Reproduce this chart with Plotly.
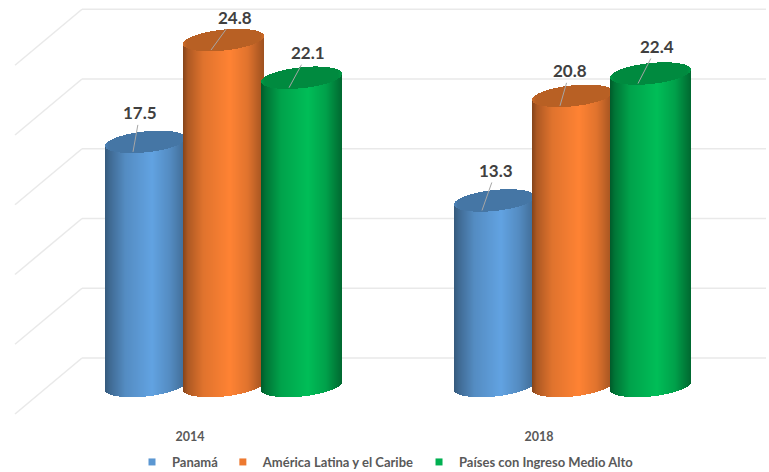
import numpy as np
import plotly.graph_objects as go

# ---- data ----
years = ["2014", "2018"]
series_names = ["Panamá", "América Latina y el Caribe", "Países con Ingreso Medio Alto"]
panama = [17.5, 13.3]
america_latina = [24.8, 20.8]
ingreso_medio_alto = [22.1, 22.4]
grid_values = [0, 5, 10, 15, 20, 25]

# ---- geometry / style ----
W, H = 769, 472
BOTTOM = 50
PX_X = 349.0            # pixels per group
PX_Y = 13.95            # pixels per value unit
X0_PX, Y0_PX = 223.5, 386.0
STEP, CYL_W = 78, 81
RX, RY, TILT = CYL_W / 2, 10.5, 4.0
DEPTH = 28.0            # px from floor centre to back wall
base_rgb = [(98, 163, 226), (255, 131, 52), (0, 190, 88)]
lid_rgb = [(69, 118, 165), (184, 96, 36), (0, 138, 63)]
shade_t = [0, 0.06, 0.25, 0.58, 0.8, 1]
shade_f = [[0.55, 0.65, 0.86, 1, 0.86, 0.65],
           [0.52, 0.68, 0.88, 1, 0.88, 0.62],
           [0.48, 0.62, 0.86, 1, 0.85, 0.55]]
label_dx = [[7, 14], [24, 10], [19, 19]]
label_dy = [[-39, -40], [-33, -35], [-35, -37]]
LBL = "#404040"
FONT = "Lato"


def sx(px):
    return px / PX_X


def sy(px):
    return px / PX_Y


def rgb(c, f=1.0):
    return "rgb(%d,%d,%d)" % tuple(min(255, int(v * f)) for v in c)


fig = go.Figure()
all_values = [panama, america_latina, ingreso_medio_alto]
annotations = []

for s, (name, vals) in enumerate(zip(series_names, all_values)):
    xs, bases, heights, colors = [], [], [], []
    for g, v in enumerate(vals):
        cx = g + sx((s - 1) * STEP)
        for i in range(CYL_W):
            u = (i + 0.5 - RX) / RX
            t = (i + 0.5) / CYL_W
            root = np.sqrt(max(0.0, 1 - u * u))
            tilt = TILT * u
            front = (-RY * root + tilt)      # px upward from centre
            back = (RY * root + tilt)
            x = cx + sx(i + 0.5 - RX)
            # body
            xs.append(x)
            bases.append(sy(front))
            heights.append(v)
            colors.append(rgb(base_rgb[s], float(np.interp(t, shade_t, shade_f[s]))))
            # lid
            xs.append(x)
            bases.append(v + sy(front))
            heights.append(sy(back - front))
            edge = 1.0 + 0.12 * max(0.0, abs(u) - 0.9) / 0.1
            colors.append(rgb(lid_rgb[s], edge))
        annotations.append(dict(
            x=cx - sx(12.5), y=v - sy(10), xref="x", yref="y",
            ax=label_dx[s][g], ay=label_dy[s][g],
            text=f"{v:.1f}", showarrow=True, arrowhead=0, arrowwidth=1,
            arrowcolor="#a6a6a6", standoff=0,
            font=dict(family=FONT, size=17, color=LBL, weight="bold"),
        ))
    fig.add_trace(go.Bar(x=xs, y=heights, base=bases, width=sx(1),
                         marker=dict(color=colors, line=dict(width=0)),
                         showlegend=False, hoverinfo="skip"))

for s, name in enumerate(series_names):
    fig.add_trace(go.Scatter(x=[None], y=[None], mode="markers", name=name,
                             marker=dict(symbol="square", size=7, color=rgb(base_rgb[s], 0.93))))

x_back_l = sx(82 - X0_PX)
x_back_r = sx(766 - X0_PX)
x_front = sx(15 - X0_PX)
shapes = []
grid_line = dict(color="#e9e9e9", width=1.5)
for v in grid_values:
    y_back = v + sy(DEPTH)
    y_front = v - sy(DEPTH)
    shapes.append(dict(type="line", layer="below", xref="x", yref="y", x0=x_back_l, x1=x_back_r,
                       y0=y_back, y1=y_back, line=grid_line))
    shapes.append(dict(type="line", layer="below", xref="x", yref="y", x0=x_front, x1=x_back_l,
                       y0=y_front, y1=y_back, line=grid_line))

plot_h = H - BOTTOM
fig.update_layout(
    width=W, height=H,
    margin=dict(l=0, r=0, t=0, b=BOTTOM, autoexpand=False),
    paper_bgcolor="white", plot_bgcolor="white",
    barmode="overlay", bargap=0,
    shapes=shapes, annotations=annotations,
    font=dict(family=FONT),
    xaxis=dict(range=[sx(-X0_PX), sx(W - X0_PX)], showgrid=False, zeroline=False, showline=False,
               tickmode="array", tickvals=[g - sx(33.5) for g in range(len(years))], ticktext=years,
               ticks="outside", ticklen=3, tickcolor="rgba(0,0,0,0)",
               tickfont=dict(family=FONT, size=12.5, color="#595959", weight="bold")),
    yaxis=dict(range=[sy(Y0_PX - plot_h), sy(Y0_PX)], showgrid=False, zeroline=False,
               showline=False, showticklabels=False, ticks=""),
    legend=dict(orientation="h", x=132 / W, xanchor="left", y=(plot_h - 462) / plot_h, yanchor="middle",
                font=dict(family=FONT, size=13, color="#595959", weight="bold"),
                bgcolor="rgba(0,0,0,0)", itemclick=False, itemdoubleclick=False),
    hovermode=False,
)

fig.write_html("out.html", config={"displayModeBar": False},
               post_script="document.body.style.margin='0';")
